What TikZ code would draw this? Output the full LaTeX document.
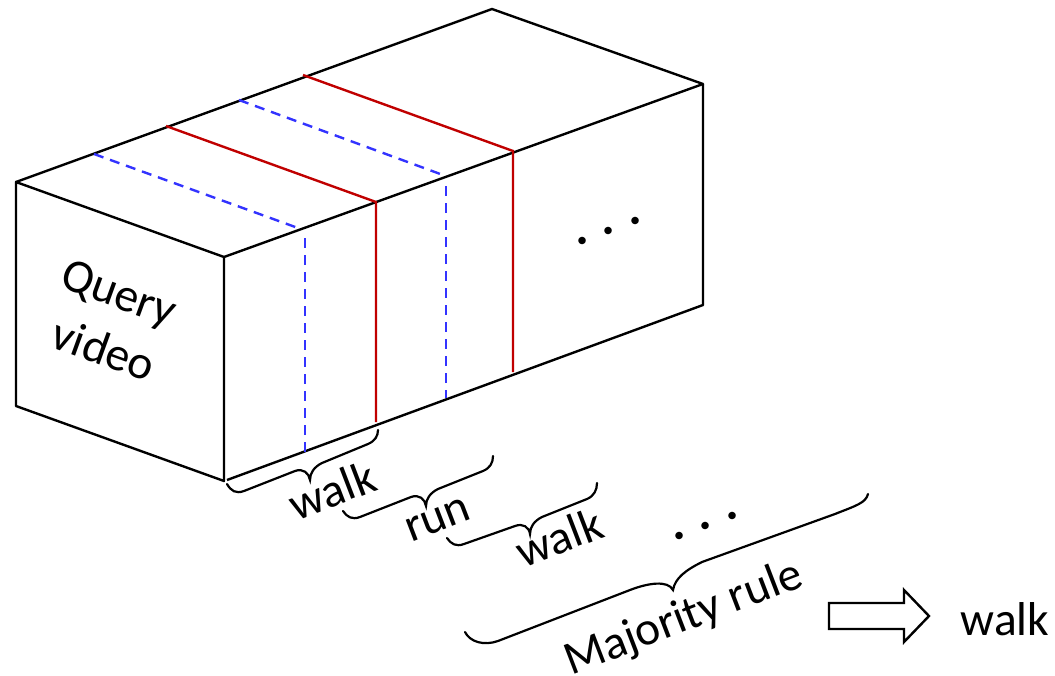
\documentclass[tikz,border=0pt]{standalone}
\usepackage{fontspec}
\setmainfont{Carlito}
\definecolor{redline}{RGB}{192,0,0}
\definecolor{blueline}{RGB}{51,51,255}
\tikzset{
  edge/.style={draw=black,line width=2.4pt,line join=round},
  red line/.style={draw=redline,line width=2.4pt},
  blue line/.style={draw=blueline,line width=2.4pt,dash pattern=on 10pt off 7pt},
  brace/.style={draw=black,line width=2.2pt,line cap=round},
  label/.style={inner sep=0pt,font=\fontsize{47.5}{50}\selectfont},
  dots/.style={inner sep=0pt,font=\fontsize{50}{52}\bfseries\selectfont},
}
\begin{document}
\begin{tikzpicture}[x=1pt,y=-1pt]
\useasboundingbox (0,0) rectangle (1055,675);
% box
\draw[edge] (16,182) -- (224,257) -- (224,481) -- (16,406) -- cycle;
\draw[edge] (16,182) -- (492,9) -- (703,84) -- (224,257);
\draw[edge] (703,84) -- (703,305) -- (227,480);
% red
\draw[red line] (166,126) -- (376,202) -- (376,422);
\draw[red line] (303,75) -- (513,151) -- (513,372);
% blue
\draw[blue line] (94,154) -- (298,228);
\draw[blue line] (305,238) -- (305,453);
\draw[blue line] (239,100) -- (443,175);
\draw[blue line] (446,186) -- (446,398);
% braces
\draw[brace] (227,484) .. controls (231,491) and (236,494) .. (244,491) -- (295,471)
  .. controls (303,468) and (309,473) .. (310,480)
  .. controls (310,473) and (314,467) .. (322,463) -- (368,444)
  .. controls (375,441) and (378,436) .. (378,430);
\draw[brace] (343,511) .. controls (347,517) and (352,520) .. (360,517) -- (411,497)
  .. controls (419,494) and (425,499) .. (426,506)
  .. controls (426,499) and (430,493) .. (438,489) -- (483,471)
  .. controls (490,468) and (493,463) .. (493,456);
\draw[brace] (447,538) .. controls (451,544) and (456,547) .. (464,544) -- (515,526)
  .. controls (523,523) and (529,527) .. (530,534)
  .. controls (530,527) and (534,521) .. (542,517) -- (587,499)
  .. controls (594,496) and (597,490) .. (597,483);
\draw[brace] (465,632) .. controls (470,642) and (484,646) .. (498,641) -- (630,590)
  .. controls (648,583) and (668,580) .. (673,590)
  .. controls (675,578) and (686,570) .. (702,562) -- (835,514)
  .. controls (855,506) and (866,503) .. (868,494);
% big arrow
\draw[draw=black,line width=2.4pt,line join=miter] (829,603) -- (904,603) -- (904,590) -- (929,616) -- (904,642) -- (904,629) -- (829,629) -- cycle;
% labels
\node[label,rotate=-20] (q) at (118,296) {Query};
\node[label,rotate=-20] (v) at (104,349) {video};
\node[label,rotate=21] (w1) at (332,490) {walk};
\node[label,rotate=21] (r) at (438,520) {run};
\node[label,rotate=21] (w2) at (559,537) {walk};
\node[label,rotate=21] (m) at (684,619) {Majority rule};
\node[label] (w3) at (1005,619) {walk};
\node[dots,rotate=21] (d1) at (609,231) {. . .};
\node[dots,rotate=21] (d2) at (706,526) {. . .};
\end{tikzpicture}
\end{document}
